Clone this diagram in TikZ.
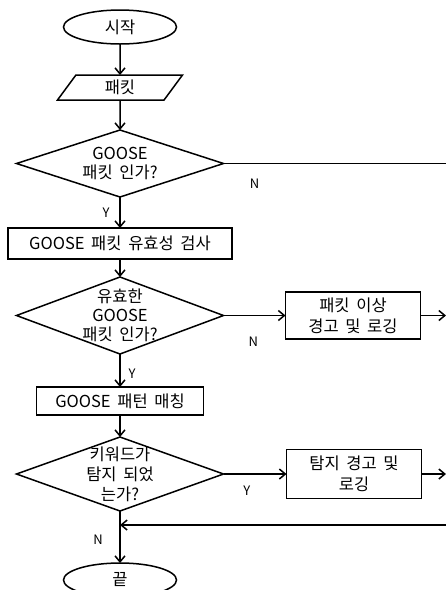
\documentclass[tikz,border=0pt]{standalone}
\usepackage{fontspec}
\setmainfont[WordSpace=1.8]{Noto Sans CJK KR}
\usetikzlibrary{shapes.geometric, arrows.meta, positioning}

\begin{document}
\begin{tikzpicture}[
      x=1pt, y=-1pt,
      font=\fontsize{16.5pt}{19pt}\selectfont,
      line width=1.5pt,
      every node/.style={outer sep=0pt},
      terminal/.style={ellipse, draw, minimum width=113pt, minimum height=34pt, inner sep=0pt},
      io/.style={trapezium, draw, trapezium left angle=39, trapezium right angle=141, trapezium stretches body, minimum width=125pt, minimum height=25pt, inner sep=0pt},
      decision/.style={diamond, draw, minimum width=207pt, inner sep=-14pt, align=center},
      process/.style={rectangle, draw, align=center, inner sep=0pt},
      arrow/.style={-{Straight Barb[length=6pt, width=10pt]}},
      flag/.style={font=\fontsize{13pt}{15pt}\selectfont}
    ]

    \useasboundingbox (0,0) rectangle (446,590);
    \coordinate (rim) at (446,0);

    % Hauptspalte
    \node[terminal] (start) at (120,27) {시작};
    \node[io, below=31pt of start] (packet) {패킷};
    \node[decision, minimum height=67pt, below=30pt of packet] (isgoose) {GOOSE\\패킷 인가?};
    \node[process, minimum width=224pt, minimum height=31pt, below=31pt of isgoose] (check) {GOOSE 패킷 유효성 검사};
    \node[decision, minimum height=77pt, below=18pt of check] (valid) {유효한\\GOOSE\\패킷 인가?};
    \node[process, minimum width=167pt, minimum height=28pt, below=33pt of valid] (match) {GOOSE 패턴 매칭};
    \node[decision, minimum height=74pt, below=22pt of match, font=\fontsize{16.5pt}{20pt}\selectfont] (found) {키워드가\\탐지 되었\\는가?};
    \node[terminal, below=52pt of found] (end) {끝};

    % Seitenkästen
    \node[process, minimum width=135pt, minimum height=47pt, right=62pt of valid, font=\fontsize{16.5pt}{21pt}\selectfont] (anomaly) {패킷 이상\\경고 및 로깅};
    \node[process, minimum width=135pt, minimum height=49pt, right=63pt of found, font=\fontsize{16.5pt}{21pt}\selectfont] (alert) {탐지 경고 및\\로깅};

    % Fluss
    \draw[arrow] (start) -- (packet);
    \draw[arrow] (packet) -- (isgoose);
    \draw (isgoose.east) -- (isgoose.east -| rim) node[flag, pos=.14, yshift=-20pt] {N};
    \draw[arrow] (isgoose) -- node[flag, xshift=-14pt] {Y} (check);
    \draw[arrow] (check) -- (valid);
    \draw[arrow] (valid) -- node[flag, pos=.48, yshift=-26pt] {N} (anomaly);
    \draw[arrow] (anomaly) -- (anomaly -| rim);
    \draw[arrow] (valid) -- node[flag, pos=.6, xshift=12pt] {Y} (match);
    \draw[arrow] (match) -- (found);
    \draw[arrow] (found) -- node[flag, pos=.37, yshift=-17pt] {Y} (alert);
    \draw[arrow] (alert) -- (alert -| rim);
    \draw[arrow] (found) -- node[flag, pos=.56, xshift=-22pt] {N} (end);

    % Rücklauf
    \coordinate (back) at (446,525);
    \draw[arrow] (back) -- (back -| found.south);

    \end{tikzpicture}
\end{document}
